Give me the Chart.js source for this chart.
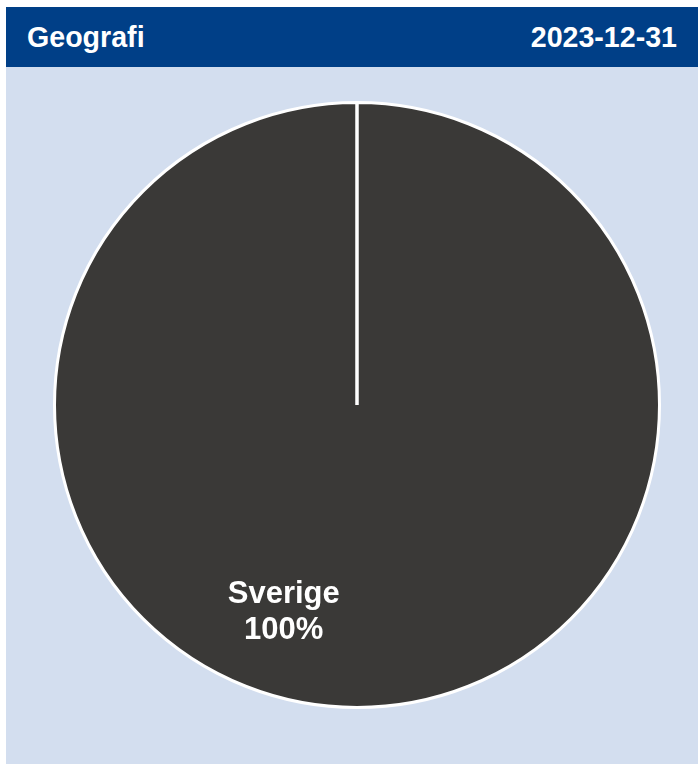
<!DOCTYPE html>
<html>
<head>
<meta charset="utf-8">
<script src="https://cdn.jsdelivr.net/npm/chart.js@4"></script>
<style>
    html, body { margin: 0; padding: 0; background: #ffffff; }
    body { width: 698px; height: 764px; position: relative; overflow: hidden; font-family: "Liberation Sans", Arial, sans-serif; }
    .header {
        position: absolute; left: 6px; top: 7px; width: 692px; height: 60px;
        background: #003f87; color: #ffffff; font-weight: bold; font-size: 28.6px;
        box-sizing: border-box; padding: 0 21px; display: flex; align-items: center; justify-content: space-between;
    }
    .panel { position: absolute; left: 6px; top: 67px; width: 692px; height: 697px; background: #d3deef; }
    #chart-wrap { position: absolute; left: 47px; top: 95px; width: 620px; height: 620px; }
</style>
</head>
<body>
<div class="header"><span>Geografi</span><span>2023-12-31</span></div>
<div class="panel"></div>
<div id="chart-wrap"><canvas id="geo"></canvas></div>
<script>
// --- Data ---
const categories = ['Sverige'];
const shares = [100];
const sliceColors = ['#3a3937'];

// Draws the slice labels and the white start line for a single full slice
const sliceLabels = {
    id: 'sliceLabels',
    afterDatasetsDraw(chart) {
        const ctx = chart.ctx;
        const meta = chart.getDatasetMeta(0);
        meta.data.forEach((arc, i) => {
            const p = arc.getProps(['x', 'y', 'startAngle', 'endAngle', 'outerRadius']);

            // radial line at slice start (Chart.js skips it for a 100% slice)
            ctx.save();
            ctx.strokeStyle = '#ffffff';
            ctx.lineWidth = 3;
            ctx.beginPath();
            ctx.moveTo(p.x, p.y);
            ctx.lineTo(p.x + Math.cos(p.startAngle) * p.outerRadius, p.y + Math.sin(p.startAngle) * p.outerRadius);
            ctx.stroke();

            // label, placed like the original (a bit off the mid angle)
            const mid = (p.startAngle + p.endAngle) / 2 + 0.343;
            const r = p.outerRadius * 0.72;
            const lx = p.x + Math.cos(mid) * r;
            const ly = p.y + Math.sin(mid) * r;
            ctx.fillStyle = '#ffffff';
            ctx.font = 'bold 31px "Liberation Sans", Arial, sans-serif';
            ctx.textAlign = 'center';
            ctx.textBaseline = 'alphabetic';
            ctx.fillText(categories[i], lx, ly - 7);
            ctx.fillText(shares[i] + '%', lx, ly + 29);
            ctx.restore();
        });
    }
};

new Chart(document.getElementById('geo'), {
    type: 'pie',
    data: {
        labels: categories,
        datasets: [{
            data: shares,
            backgroundColor: sliceColors,
            borderColor: '#ffffff',
            borderWidth: 3
        }]
    },
    options: {
        responsive: true,
        maintainAspectRatio: false,
        animation: false,
        layout: { padding: 6 },
        plugins: {
            legend: { display: false },
            tooltip: { enabled: false }
        }
    },
    plugins: [sliceLabels]
});
</script>
</body>
</html>
